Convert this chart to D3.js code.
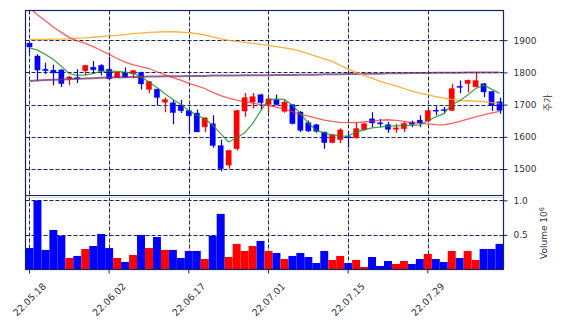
<!DOCTYPE html>
<html>
<head>
<meta charset="utf-8">
<script src="https://cdn.jsdelivr.net/npm/d3@7/dist/d3.min.js"></script>
<style>
  body { margin: 0; background: #fff; }
  svg { display: block; font-family: "DejaVu Sans", sans-serif; }
</style>
</head>
<body>
<div id="chart"></div>
<script>
// trading days (KRX), one bar per day
const dates = [
  "22.05.18","22.05.19","22.05.20","22.05.23","22.05.24","22.05.25","22.05.26","22.05.27","22.05.30","22.05.31",
  "22.06.02","22.06.03","22.06.07","22.06.08","22.06.09","22.06.10","22.06.13","22.06.14","22.06.15","22.06.16",
  "22.06.17","22.06.20","22.06.21","22.06.22","22.06.23","22.06.24","22.06.27","22.06.28","22.06.29","22.06.30",
  "22.07.01","22.07.04","22.07.05","22.07.06","22.07.07","22.07.08","22.07.11","22.07.12","22.07.13","22.07.14",
  "22.07.15","22.07.18","22.07.19","22.07.20","22.07.21","22.07.22","22.07.25","22.07.26","22.07.27","22.07.28",
  "22.07.29","22.08.01","22.08.02","22.08.03","22.08.04","22.08.05","22.08.08","22.08.09","22.08.10","22.08.11"
];
const opens = [
  1891,1851,1810,1807,1808,1780,1784,1805,1816,1822,
  1810,1784,1798,1795,1800,1747,1748,1707,1706,1699,
  1682,1674,1631,1641,1573,1512,1563,1680,1708,1731,
  1700,1715,1679,1700,1677,1644,1638,1615,1582,1591,
  1601,1597,1622,1656,1644,1638,1623,1625,1646,1652,
  1649,1683,1685,1682,1757,1765,1755,1765,1741,1709
];
const highs = [
  1893,1856,1830,1824,1810,1789,1810,1823,1835,1825,
  1848,1802,1815,1807,1802,1773,1750,1722,1715,1714,
  1684,1685,1661,1667,1591,1560,1684,1736,1736,1734,
  1725,1731,1715,1702,1680,1651,1640,1616,1609,1627,
  1615,1646,1643,1676,1655,1646,1640,1647,1651,1667,
  1684,1695,1693,1765,1775,1777,1798,1767,1743,1721
];
const lows = [
  1860,1773,1794,1760,1755,1760,1767,1790,1796,1790,
  1778,1783,1784,1782,1747,1735,1698,1676,1639,1674,
  1618,1615,1615,1566,1493,1501,1558,1662,1688,1685,
  1675,1698,1675,1638,1615,1615,1613,1563,1580,1581,
  1566,1595,1620,1630,1630,1613,1613,1615,1630,1630,
  1647,1667,1672,1680,1735,1738,1754,1724,1680,1672
];
const closes = [
  1879,1807,1805,1798,1765,1786,1781,1822,1808,1804,
  1780,1801,1785,1806,1764,1772,1722,1716,1675,1681,
  1665,1615,1659,1573,1501,1558,1682,1722,1725,1706,
  1718,1700,1708,1641,1620,1618,1617,1582,1607,1622,
  1597,1626,1641,1643,1640,1623,1628,1642,1639,1643,
  1682,1680,1682,1750,1753,1776,1775,1739,1697,1682
];
const volumes = [
  310000,1000000,283000,572000,490000,167000,196000,297000,340000,514000,
  310000,167000,109000,210000,500000,310000,470000,283000,283000,167000,
  268000,268000,152000,490000,804000,181000,370000,268000,340000,413000,
  268000,239000,152000,196000,239000,181000,94000,268000,138000,196000,
  94000,138000,36000,181000,50000,123000,80000,123000,80000,152000,
  225000,152000,109000,268000,167000,268000,138000,297000,297000,370000
];
// moving averages
const ma5 = [
  1876,1869,1856,1840,1819,1796,1791,1792,1796,1804,
  1804,1803,1801,1798,1786,1770,1753,1734,1716,1701,
  1682,1667,1656,1636,1610,1584,1597,1612,1641,1680,
  1716,1717,1716,1698,1672,1643,1620,1612,1605,1603,
  1602,1615,1622,1628,1630,1633,1634,1635,1636,1637,
  1650,1662,1672,1700,1712,1730,1750,1760,1748,1735
];
const ma20 = [
  2000,1979,1960,1940,1924,1908,1898,1890,1880,1868,
  1856,1843,1832,1823,1818,1812,1802,1793,1784,1776,
  1766,1758,1750,1738,1728,1720,1714,1709,1705,1700,
  1697,1692,1686,1678,1670,1664,1658,1652,1648,1645,
  1644,1644,1646,1649,1652,1653,1651,1648,1644,1642,
  1640,1638,1637,1642,1648,1655,1662,1668,1674,1679
];
const ma60 = [
  1902,1902,1902,1903,1903,1904,1906,1907,1909,1911,
  1913,1915,1917,1920,1922,1924,1925,1926,1926,1925,
  1923,1920,1916,1910,1904,1899,1896,1893,1890,1887,
  1884,1880,1876,1872,1866,1858,1850,1842,1834,1822,
  1810,1800,1791,1782,1772,1765,1758,1750,1742,1736,
  1730,1725,1720,1716,1713,1712,1711,1709,1706,1702
];
const ma120 = [
  1773,1775,1776,1777,1778,1779,1780,1781,1782,1783,
  1784,1785,1785,1786,1786,1787,1787,1788,1788,1788,
  1789,1789,1789,1790,1790,1790,1790,1791,1791,1791,
  1791,1792,1792,1792,1793,1793,1793,1794,1794,1794,
  1795,1795,1796,1796,1796,1797,1797,1797,1798,1798,
  1798,1799,1799,1799,1799,1800,1800,1800,1800,1800
];
const priceTicks = [1500, 1600, 1700, 1800, 1900];
const volumeTicks = [500000, 1000000];
const tickDates = ["22.05.18","22.06.02","22.06.17","22.07.01","22.07.15","22.07.29"];

const W = 562, H = 326;
const plotLeft = 25.5, plotRight = 503.5, plotTop = 10.5, plotMid = 195.5, plotBottom = 269.5;
const navy = "#13275e";
const upColor = "#ff0000", downColor = "#0000ff";

const svg = d3.select("#chart").append("svg")
  .attr("width", W)
  .attr("height", H);

const x = d3.scaleBand().domain(dates).range([plotLeft, plotRight]).padding(0);
const cx = d => x(d) + x.bandwidth() / 2;
const yP = d3.scaleLinear().domain([1418, 1992]).range([plotMid, plotTop]);
const yV = d3.scaleLinear().domain([0, 1070000]).range([plotBottom, plotMid]);

const bars = dates.map((d, i) => ({
  date: d, o: opens[i], h: highs[i], l: lows[i], c: closes[i], v: volumes[i]
}));
const colorOf = d => d.c >= d.o ? upColor : downColor;

svg.append("defs").append("clipPath").attr("id", "clipP")
  .append("rect").attr("x", plotLeft).attr("y", plotTop)
  .attr("width", plotRight - plotLeft).attr("height", plotMid - plotTop);

// grid
const grid = svg.append("g")
  .attr("stroke", navy)
  .attr("stroke-width", 1)
  .attr("stroke-dasharray", "4,2")
  .attr("fill", "none");
grid.selectAll(".vg").data(tickDates).enter().append("line")
  .attr("x1", d => Math.round(cx(d)) + 0.5).attr("x2", d => Math.round(cx(d)) + 0.5)
  .attr("y1", plotTop).attr("y2", plotBottom);
grid.selectAll(".pg").data(priceTicks).enter().append("line")
  .attr("x1", plotLeft).attr("x2", plotRight)
  .attr("y1", d => Math.round(yP(d)) + 0.5).attr("y2", d => Math.round(yP(d)) + 0.5);
grid.selectAll(".vgh").data(volumeTicks).enter().append("line")
  .attr("x1", plotLeft).attr("x2", plotRight)
  .attr("y1", d => Math.round(yV(d)) + 0.5).attr("y2", d => Math.round(yV(d)) + 0.5);

// volume bars
svg.append("g").selectAll("rect").data(bars).enter().append("rect")
  .attr("x", d => x(d.date))
  .attr("width", x.bandwidth())
  .attr("y", d => yV(d.v))
  .attr("height", d => plotBottom - yV(d.v))
  .attr("fill", colorOf);

// candles
const bodyW = x.bandwidth() * 0.68;
const candles = svg.append("g").attr("clip-path", "url(#clipP)");
candles.selectAll(".wick").data(bars).enter().append("line")
  .attr("x1", d => Math.round(cx(d.date)) + 0.5)
  .attr("x2", d => Math.round(cx(d.date)) + 0.5)
  .attr("y1", d => yP(d.h)).attr("y2", d => yP(d.l))
  .attr("stroke", colorOf).attr("stroke-width", 1.2);
candles.selectAll(".body").data(bars).enter().append("rect")
  .attr("x", d => cx(d.date) - bodyW / 2)
  .attr("width", bodyW)
  .attr("y", d => yP(Math.max(d.o, d.c)))
  .attr("height", d => Math.max(1.2, Math.abs(yP(d.o) - yP(d.c))))
  .attr("fill", colorOf)
  .attr("stroke", colorOf).attr("stroke-opacity", 0.25).attr("stroke-width", 1);

// moving averages
const maSeries = [
  { vals: ma120, color: "#6e2f6e", w: 2, op: 0.75 },
  { vals: ma60, color: "#ffa21c", w: 1.3, op: 0.85 },
  { vals: ma20, color: "#ff2a2a", w: 1.3, op: 0.75 },
  { vals: ma5, color: "#1f8f1f", w: 1.3, op: 0.8 }
];
const line = d3.line().x((v, i) => cx(dates[i])).y(v => yP(v)).curve(d3.curveLinear);
const lines = svg.append("g").attr("clip-path", "url(#clipP)");
maSeries.forEach(s => {
  lines.append("path")
    .attr("d", line(s.vals))
    .attr("fill", "none")
    .attr("stroke", s.color)
    .attr("stroke-width", s.w)
    .attr("stroke-opacity", s.op);
});

// frame
const frame = svg.append("g").attr("stroke", navy).attr("stroke-width", 1.2).attr("fill", "none");
frame.append("rect").attr("x", plotLeft).attr("y", plotTop)
  .attr("width", plotRight - plotLeft).attr("height", plotBottom - plotTop);
frame.append("line").attr("x1", plotLeft).attr("x2", plotRight).attr("y1", plotMid).attr("y2", plotMid);
svg.append("line").attr("x1", plotLeft + 1).attr("x2", plotRight - 1)
  .attr("y1", plotMid + 1.8).attr("y2", plotMid + 1.8)
  .attr("stroke", "#d8d8e0").attr("stroke-width", 1.2);

// right axes
const styleAxis = g => {
  g.select(".domain").remove();
  g.selectAll(".tick line").attr("stroke", navy);
  g.selectAll(".tick text").attr("fill", "#333").attr("font-size", "9px")
    .attr("font-family", "DejaVu Sans, sans-serif");
};
svg.append("g")
  .attr("transform", `translate(${plotRight},0)`)
  .call(d3.axisRight(yP).tickValues(priceTicks).tickSize(4).tickPadding(6)
    .tickFormat(d3.format("d")))
  .call(styleAxis);
svg.append("g")
  .attr("transform", `translate(${plotRight},0)`)
  .call(d3.axisRight(yV).tickValues(volumeTicks).tickSize(4).tickPadding(6)
    .tickFormat(d => (d / 1e6).toFixed(1)))
  .call(styleAxis);

// bottom axis with rotated dates
const xAxis = svg.append("g")
  .attr("transform", `translate(0,${plotBottom})`)
  .call(d3.axisBottom(x).tickValues(tickDates).tickSize(4))
  .call(styleAxis);
xAxis.selectAll(".tick text")
  .attr("y", 0).attr("dy", "0.35em")
  .attr("text-anchor", "middle")
  .attr("font-size", "9.5px")
  .attr("transform", "translate(0,30) rotate(-45)");

// axis labels
svg.append("text")
  .attr("transform", "translate(551,103) rotate(-90)")
  .attr("text-anchor", "middle")
  .attr("font-family", "Noto Sans CJK KR, sans-serif")
  .attr("font-size", "9px")
  .attr("fill", "#333")
  .text("주가");

const vLabel = svg.append("text")
  .attr("transform", "translate(547,233) rotate(-90)")
  .attr("text-anchor", "middle")
  .attr("font-size", "9px")
  .attr("fill", "#333");
vLabel.append("tspan").text("Volume  10");
vLabel.append("tspan").attr("dy", "-0.45em").attr("font-size", "6.5px").text("6");
</script>
</body>
</html>
